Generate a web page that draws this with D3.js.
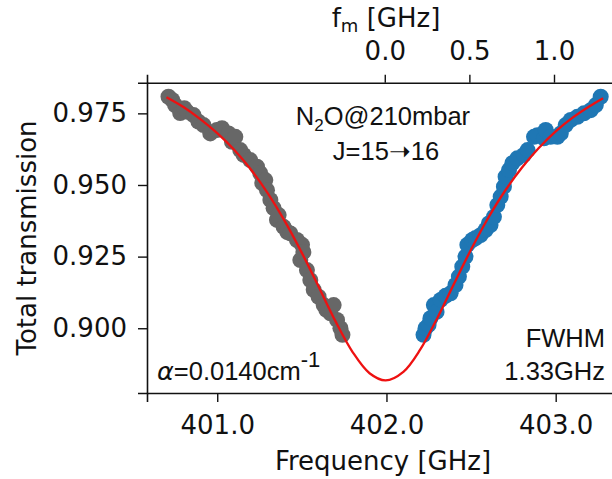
<!DOCTYPE html>
<html>
<head>
<meta charset="utf-8">
<script src="https://cdn.jsdelivr.net/npm/d3@7"></script>
<style>
  html, body { margin: 0; padding: 0; background: #fff; }
  svg { display: block; }
  text { fill: #111; }
</style>
</head>
<body>
<script>
// Measured transmission, low-frequency wing (GHz, transmission)
const grayFreq = [400.712, 400.734, 400.751, 400.781, 400.805, 400.821, 400.860, 400.889, 400.919,
  400.959, 400.998, 401.028, 401.067, 401.087, 401.107, 401.136, 401.156, 401.195, 401.235,
  401.254, 401.266, 401.284, 401.294, 401.314, 401.333, 401.353, 401.363, 401.392, 401.414,
  401.432, 401.471, 401.491, 401.501, 401.509, 401.530, 401.550, 401.570, 401.599, 401.629,
  401.645, 401.669, 401.688, 401.708, 401.728, 401.740];
const grayTrans = [0.9808, 0.9797, 0.9779, 0.9751, 0.9768, 0.9756, 0.9744, 0.9721, 0.9709,
  0.9680, 0.9692, 0.9698, 0.9680, 0.9651, 0.9668, 0.9622, 0.9605, 0.9587, 0.9564,
  0.9541, 0.9507, 0.9517, 0.9482, 0.9448, 0.9419, 0.9378, 0.9395, 0.9354, 0.9336,
  0.9331, 0.9308, 0.9238, 0.9291, 0.9266, 0.9203, 0.9168, 0.9134, 0.9110, 0.9081,
  0.9064, 0.9052, 0.9081, 0.9029, 0.9000, 0.8977];

// Measured transmission, high-frequency wing
const blueFreq = [402.219, 402.231, 402.249, 402.260, 402.280, 402.296, 402.320, 402.349, 402.379,
  402.408, 402.428, 402.448, 402.467, 402.478, 402.507, 402.527, 402.556, 402.586, 402.605,
  402.615, 402.635, 402.655, 402.675, 402.694, 402.704, 402.724, 402.744, 402.773, 402.812,
  402.834, 402.872, 402.892, 402.931, 402.941, 402.970, 403.010, 403.030, 403.059, 403.089,
  403.128, 403.167, 403.207, 403.237, 403.266];
const blueTrans = [0.8977, 0.9000, 0.9012, 0.9035, 0.9081, 0.9057, 0.9099, 0.9113, 0.9122,
  0.9151, 0.9180, 0.9215, 0.9250, 0.9291, 0.9308, 0.9315, 0.9325, 0.9343, 0.9366,
  0.9360, 0.9389, 0.9430, 0.9459, 0.9494, 0.9529, 0.9552, 0.9576, 0.9593, 0.9605,
  0.9622, 0.9668, 0.9674, 0.9663, 0.9692, 0.9668, 0.9668, 0.9680, 0.9709, 0.9727,
  0.9738, 0.9750, 0.9761, 0.9779, 0.9808];

// Fitted line profile
const fitFreq = [400.70, 400.80, 400.90, 401.00, 401.10, 401.20, 401.30, 401.40, 401.50, 401.60,
  401.70, 401.80, 401.90, 401.995, 402.10, 402.20, 402.30, 402.40, 402.50, 402.60, 402.70,
  402.80, 402.90, 403.00, 403.10, 403.20, 403.28];
const fitTrans = [0.9806, 0.9772, 0.9730, 0.9681, 0.9623, 0.9553, 0.9470, 0.9373, 0.9263, 0.9144,
  0.9023, 0.8917, 0.8843, 0.8818, 0.8848, 0.8926, 0.9035, 0.9156, 0.9275, 0.9384, 0.9479,
  0.9560, 0.9629, 0.9687, 0.9735, 0.9775, 0.9803];

const freqTicks = [401.0, 402.0, 403.0];
const fmTicks = [0.0, 0.5, 1.0];
const transTicks = [0.900, 0.925, 0.950, 0.975];
const lineCenter = 401.99;   // f_m = 0 position

const W = 612, H = 479;
const m = { left: 147, top: 82.7, bottom: 393, right: 620 };

const svg = d3.select("body").append("svg").attr("width", W).attr("height", H);

const x = d3.scaleLinear().domain([400.585, 403.38]).range([m.left, m.right]);
const y = d3.scaleLinear().domain([0.8774, 0.9857]).range([m.bottom, m.top]);
const xm = d3.scaleLinear().domain([400.585 - lineCenter, 403.38 - lineCenter]).range([m.left, m.right]);

const axisFont = "'DejaVu Sans', sans-serif";
const annFont = "'Liberation Sans', Arial, sans-serif";
const FS = 26;

// plot-area clip
svg.append("clipPath").attr("id", "clip")
  .append("rect").attr("x", m.left).attr("y", m.top)
  .attr("width", m.right - m.left).attr("height", m.bottom - m.top);

const plot = svg.append("g").attr("clip-path", "url(#clip)");

const gray = grayFreq.map((f, i) => [f, grayTrans[i]]);
const blue = blueFreq.map((f, i) => [f, blueTrans[i]]);
const R = 8;

plot.selectAll("circle.g").data(gray).join("circle").attr("class", "g")
  .attr("cx", d => x(d[0])).attr("cy", d => y(d[1])).attr("r", R).attr("fill", "#676767");
plot.selectAll("circle.b").data(blue).join("circle").attr("class", "b")
  .attr("cx", d => x(d[0])).attr("cy", d => y(d[1])).attr("r", R).attr("fill", "#1f77b4");

const fit = fitFreq.map((f, i) => [f, fitTrans[i]]);
plot.append("path").datum(fit)
  .attr("d", d3.line().x(d => x(d[0])).y(d => y(d[1])).curve(d3.curveCatmullRom))
  .attr("fill", "none").attr("stroke", "#ee1111").attr("stroke-width", 2.3);

// axes
function styleAxis(g) {
  g.selectAll("path.domain").attr("stroke", "#111").attr("stroke-width", 1.6);
  g.selectAll(".tick line").attr("stroke", "#111").attr("stroke-width", 1.4);
  g.selectAll(".tick text").attr("font-family", axisFont).attr("font-size", FS).attr("fill", "#111");
}

const gx = svg.append("g").attr("transform", `translate(0,${m.bottom})`)
  .call(d3.axisBottom(x).tickValues(freqTicks).tickFormat(d3.format(".1f")).tickSizeOuter(0).tickSize(9).tickPadding(4));
styleAxis(gx);
gx.selectAll(".tick text").attr("dy", null).attr("y", 41);

const gt = svg.append("g").attr("transform", `translate(0,${m.top})`)
  .call(d3.axisTop(xm).tickValues(fmTicks).tickFormat(d3.format(".1f")).tickSizeOuter(0).tickSize(8).tickPadding(4));
styleAxis(gt);
gt.selectAll(".tick text").attr("dy", null).attr("y", -22.7);

const gy = svg.append("g").attr("transform", `translate(${m.left},0)`)
  .call(d3.axisLeft(y).tickValues(transTicks).tickFormat(d3.format(".3f")).tickSizeOuter(0).tickSize(9).tickPadding(11));
styleAxis(gy);

// axis labels
svg.append("text").attr("x", 383).attr("y", 470).attr("text-anchor", "middle")
  .attr("font-family", axisFont).attr("font-size", FS).text("Frequency [GHz]");

svg.append("text").attr("transform", "translate(36,238) rotate(-90)").attr("text-anchor", "middle")
  .attr("font-family", axisFont).attr("font-size", FS).text("Total transmission");

const fmLabel = svg.append("text").attr("x", 386).attr("y", 27).attr("text-anchor", "middle")
  .attr("font-family", axisFont).attr("font-size", FS);
fmLabel.append("tspan").text("f");
fmLabel.append("tspan").attr("font-size", 18).attr("dy", 5).text("m");
fmLabel.append("tspan").attr("dy", -5).text(" [GHz]");

// annotations
const t1 = svg.append("text").attr("x", 383).attr("y", 125).attr("text-anchor", "middle")
  .attr("font-family", annFont).attr("font-size", 25.5);
t1.append("tspan").text("N");
t1.append("tspan").attr("font-size", 17).attr("dy", 6).text("2");
t1.append("tspan").attr("dy", -6).text("O@210mbar");

svg.append("text").attr("x", 386).attr("y", 160).attr("text-anchor", "middle")
  .attr("font-family", annFont).attr("font-size", 25.5).text("J=15\u279D16");

svg.append("text").attr("x", 605).attr("y", 347).attr("text-anchor", "end")
  .attr("font-family", annFont).attr("font-size", 25.5).text("FWHM");
svg.append("text").attr("x", 605).attr("y", 380).attr("text-anchor", "end")
  .attr("font-family", annFont).attr("font-size", 25.5).text("1.33GHz");

const ta = svg.append("text").attr("x", 157).attr("y", 380)
  .attr("font-family", annFont).attr("font-size", 25.5);
ta.append("tspan").attr("font-family", axisFont).attr("font-style", "italic").text("\u03B1");
ta.append("tspan").text("=0.0140cm");
ta.append("tspan").attr("font-size", 22).attr("dy", -13).text("-1");
</script>
</body>
</html>
